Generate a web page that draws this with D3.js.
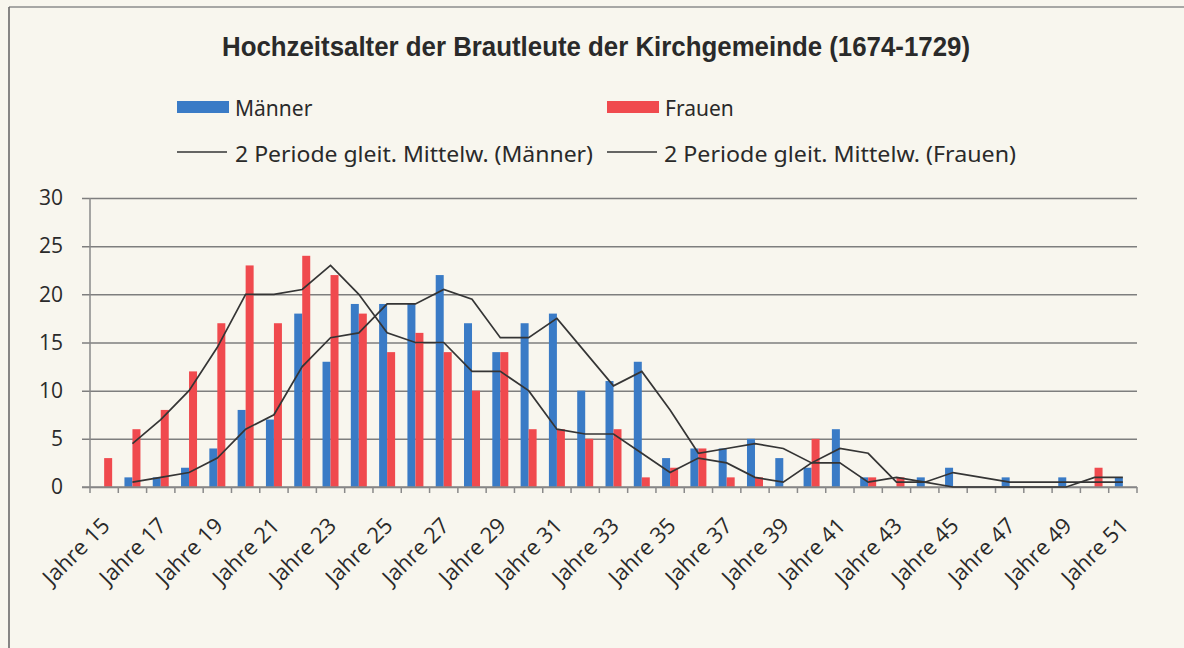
<!DOCTYPE html>
<html>
<head>
<meta charset="utf-8">
<script src="https://cdn.jsdelivr.net/npm/d3@7"></script>
<style>
  body { margin: 0; background: #f8f6ee; }
  svg { display: block; }
  text { font-family: "Noto Sans", "Open Sans", sans-serif; fill: #2a2a2a; }
</style>
</head>
<body>
<div class="chart"></div>
<script>
// data: counts per age (Jahre 15 .. Jahre 51)
let ages = d3.range(15, 52);
let categories = ages.map(a => "Jahre " + a);
let maenner = [0, 1, 1, 2, 4, 8, 7, 18, 13, 19, 19, 19, 22, 17, 14, 17, 18, 10, 11, 13,
               3, 4, 4, 5, 3, 2, 6, 1, 0, 1, 2, 0, 1, 0, 1, 0, 1];
let frauen  = [3, 6, 8, 12, 17, 23, 17, 24, 22, 18, 14, 16, 14, 10, 14, 6, 6, 5, 6, 1,
               2, 4, 1, 1, 0, 5, 0, 1, 1, 0, 0, 0, 0, 0, 0, 2, 0];
let yTicks = [0, 5, 10, 15, 20, 25, 30];
let xLabels = categories.filter((c, i) => i % 2 === 0);

let svgW = 1184;
let svgH = 648;

// plot area
let plotLeft = 90, plotRight = 1137, plotTop = 198, plotBottom = 487;

let svg = d3.select(".chart")
  .append("svg")
  .attr("width", svgW)
  .attr("height", svgH);

// frame of the chart box
svg.append("line").attr("x1", 9).attr("x2", svgW).attr("y1", 7).attr("y2", 7)
  .attr("stroke", "#8c8c8c").attr("stroke-width", 1.5);
svg.append("line").attr("x1", 9).attr("x2", 9).attr("y1", 7).attr("y2", svgH)
  .attr("stroke", "#6a6a6a").attr("stroke-width", 1.6);

// title
svg.append("text")
  .attr("x", 596)
  .attr("y", 56)
  .attr("text-anchor", "middle")
  .attr("textLength", 748)
  .attr("lengthAdjust", "spacingAndGlyphs")
  .style("font-family", "'Liberation Sans', Arial, sans-serif")
  .style("font-weight", "bold")
  .style("font-size", "28px")
  .attr("fill", "#1e1e1e")
  .text("Hochzeitsalter der Brautleute der Kirchgemeinde (1674-1729)");

// scales
let x0 = d3.scaleBand().domain(categories).range([plotLeft, plotRight]).padding(0);
let bw = x0.bandwidth();
let x1 = d3.scaleBand().domain(["m", "f"]).range([bw / 2 - 8, bw / 2 + 8]).padding(0);
let y = d3.scaleLinear().domain([0, 30]).range([plotBottom, plotTop]);

let colors = { m: "#3a7bc6", f: "#f04a4e" };

// gridlines + y labels
let yAxis = d3.axisLeft(y).tickValues(yTicks).tickSize(0).tickPadding(0);
let gy = svg.append("g")
  .attr("transform", `translate(${plotLeft - 8}, 0)`)
  .call(yAxis);
gy.select(".domain").remove();
gy.selectAll(".tick line")
  .attr("x1", 0)
  .attr("x2", plotRight - plotLeft + 8)
  .attr("stroke", "#7e7e7e")
  .attr("stroke-width", 1.5);
gy.selectAll(".tick text")
  .attr("x", 63 - (plotLeft - 8))
  .style("font-size", "21px")
  .style("font-family", "'Open Sans', sans-serif")
  .attr("fill", "#2a2a2a");

// vertical axis line
svg.append("line")
  .attr("x1", plotLeft).attr("x2", plotLeft).attr("y1", plotTop).attr("y2", plotBottom)
  .attr("stroke", "#8a8a8a").attr("stroke-width", 1.5);

// bars
let rows = categories.map((c, i) => ({ cat: c, m: maenner[i], f: frauen[i] }));
let groups = svg.append("g").selectAll("g")
  .data(rows)
  .enter()
  .append("g")
  .attr("transform", d => `translate(${x0(d.cat)}, 0)`);

groups.selectAll("rect")
  .data(d => ["m", "f"].map(k => ({ key: k, value: d[k] })))
  .enter()
  .append("rect")
  .attr("x", d => x1(d.key))
  .attr("width", x1.bandwidth())
  .attr("y", d => y(d.value))
  .attr("height", d => plotBottom - y(d.value))
  .attr("fill", d => colors[d.key]);

// x axis with ticks at category boundaries
svg.append("line")
  .attr("x1", plotLeft - 8).attr("x2", plotRight).attr("y1", plotBottom).attr("y2", plotBottom)
  .attr("stroke", "#8a8a8a").attr("stroke-width", 1.5);
svg.append("g").selectAll("line")
  .data(categories.concat(["end"]))
  .enter()
  .append("line")
  .attr("x1", (d, i) => plotLeft + i * bw)
  .attr("x2", (d, i) => plotLeft + i * bw)
  .attr("y1", plotBottom)
  .attr("y2", plotBottom + 6)
  .attr("stroke", "#8a8a8a")
  .attr("stroke-width", 1.5);

// rotated category labels (every second one)
svg.append("g").selectAll("text")
  .data(xLabels)
  .enter()
  .append("text")
  .attr("transform", d => `translate(${x0(d) + bw / 2 + 7}, ${plotBottom + 40}) rotate(-45)`)
  .attr("text-anchor", "end")
  .style("font-size", "22px")
  .style("font-family", "'Open Sans', sans-serif")
  .text(d => d);

// 2 period moving averages (trendlines of the chart)
function movingAvg(arr) {
  return arr.map((v, i) => i === 0 ? null : (arr[i - 1] + v) / 2);
}
let line = d3.line()
  .defined(d => d.v !== null)
  .x(d => x0(d.cat) + bw / 2)
  .y(d => y(d.v));

[maenner, frauen].forEach(series => {
  let pts = movingAvg(series).map((v, i) => ({ cat: categories[i], v: v }));
  svg.append("path")
    .datum(pts)
    .attr("d", line)
    .attr("fill", "none")
    .attr("stroke", "#353535")
    .attr("stroke-width", 1.7);
});

// legend
let legend = svg.append("g");
legend.append("rect").attr("x", 177).attr("y", 101).attr("width", 52).attr("height", 12).attr("fill", colors.m);
legend.append("text").attr("x", 235).attr("y", 116).style("font-size", "21px").text("Männer");
legend.append("rect").attr("x", 607).attr("y", 101).attr("width", 52).attr("height", 12).attr("fill", colors.f);
legend.append("text").attr("x", 665).attr("y", 116).style("font-size", "21px").text("Frauen");

legend.append("line").attr("x1", 177).attr("x2", 227).attr("y1", 152).attr("y2", 152)
  .attr("stroke", "#353535").attr("stroke-width", 1.7);
legend.append("text").attr("x", 235).attr("y", 162).style("font-size", "21px")
  .attr("textLength", 358).attr("lengthAdjust", "spacingAndGlyphs")
  .text("2 Periode gleit. Mittelw. (Männer)");
legend.append("line").attr("x1", 607).attr("x2", 657).attr("y1", 152).attr("y2", 152)
  .attr("stroke", "#353535").attr("stroke-width", 1.7);
legend.append("text").attr("x", 664).attr("y", 162).style("font-size", "21px")
  .attr("textLength", 352).attr("lengthAdjust", "spacingAndGlyphs")
  .text("2 Periode gleit. Mittelw. (Frauen)");
</script>
</body>
</html>
